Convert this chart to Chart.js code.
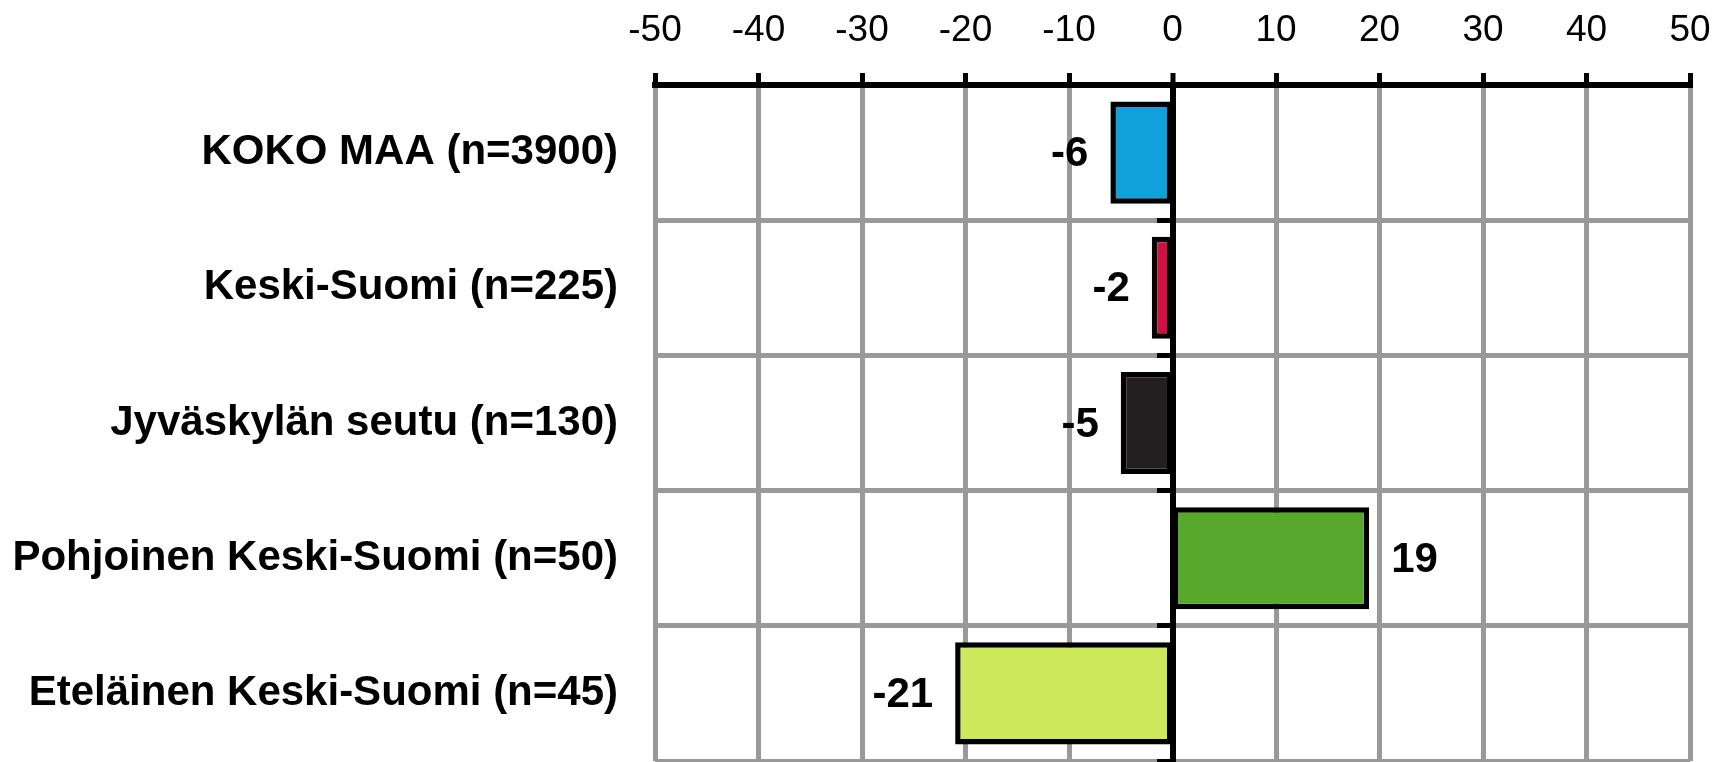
<!DOCTYPE html>
<html>
<head>
<meta charset="utf-8">
<script src="https://cdn.jsdelivr.net/npm/chart.js@4/dist/chart.umd.min.js"></script>
<style>
    html, body { margin: 0; padding: 0; background: #fff; overflow: hidden; }
    #wrap { width: 1714px; height: 762px; position: relative; }
</style>
</head>
<body>
<div id="wrap"><canvas id="chart"></canvas></div>
<script>
const categories = [
    'KOKO MAA (n=3900)',
    'Keski-Suomi (n=225)',
    'Jyväskylän seutu (n=130)',
    'Pohjoinen Keski-Suomi (n=50)',
    'Eteläinen Keski-Suomi (n=45)'
];
const values = [-6, -2, -5, 19, -21];
const barColors = ['#10a0da', '#cf1040', '#231f20', '#57a82c', '#cde85b'];
const xMin = -50;
const xMax = 50;
const xStep = 10;

// value labels next to the bar ends
const valueLabels = {
    id: 'valueLabels',
    afterDatasetsDraw(chart) {
        const ctx = chart.ctx;
        const meta = chart.getDatasetMeta(0);
        ctx.save();
        ctx.font = 'bold 42px "Liberation Sans", Arial, sans-serif';
        ctx.fillStyle = '#000';
        ctx.textBaseline = 'middle';
        meta.data.forEach((bar, i) => {
            const v = values[i];
            if (v < 0) {
                ctx.textAlign = 'right';
                ctx.fillText(String(v), bar.x - 22, bar.y + 2);
            } else {
                ctx.textAlign = 'left';
                ctx.fillText(String(v), bar.x + 22, bar.y + 2);
            }
        });
        ctx.restore();
    }
};

const isZero = (c) => c.tick && c.tick.value === 0;

new Chart(document.getElementById('chart').getContext('2d'), {
    type: 'bar',
    data: {
        labels: categories,
        datasets: [{
            data: values,
            backgroundColor: barColors,
            borderColor: '#000',
            borderWidth: 5.5,
            borderSkipped: false,
            inflateAmount: 0,
            barPercentage: 0.755,
            categoryPercentage: 1
        }]
    },
    options: {
        indexAxis: 'y',
        responsive: true,
        maintainAspectRatio: false,
        animation: false,
        layout: { padding: 0 },
        plugins: {
            legend: { display: false },
            tooltip: { enabled: false }
        },
        scales: {
            x: {
                position: 'top',
                min: xMin,
                max: xMax,
                ticks: {
                    stepSize: xStep,
                    color: '#000',
                    padding: 20,
                    font: { family: '"Liberation Sans", Arial', size: 37 }
                },
                grid: {
                    color: '#999',
                    // zero line comes from the y2 axis border
                    lineWidth: (c) => isZero(c) ? 0 : 5,
                    tickColor: '#000',
                    tickWidth: 5,
                    tickLength: 12
                },
                border: { color: '#000', width: 6 },
                afterFit: (s) => { s.height = 85; s.paddingRight = 24; }
            },
            y: {
                offset: true,
                ticks: {
                    color: '#000',
                    padding: 0,
                    font: { family: '"Liberation Sans", Arial', size: 42, weight: 'bold' }
                },
                grid: {
                    offset: true,
                    color: '#999',
                    lineWidth: 5,
                    tickLength: 37,
                    tickColor: 'rgba(0,0,0,0)'
                },
                border: { display: false },
                afterFit: (s) => { s.width = 655; s.paddingTop = 0; s.paddingBottom = 1; }
            },
            y2: {
                type: 'category',
                axis: 'y',
                position: { x: 0 },
                offset: true,
                ticks: { display: false, padding: 0 },
                grid: {
                    offset: true,
                    drawOnChartArea: false,
                    tickColor: '#000',
                    tickWidth: 5,
                    tickLength: 13
                },
                border: { color: '#000', width: 6 }
            }
        }
    },
    plugins: [valueLabels]
});
</script>
</body>
</html>
